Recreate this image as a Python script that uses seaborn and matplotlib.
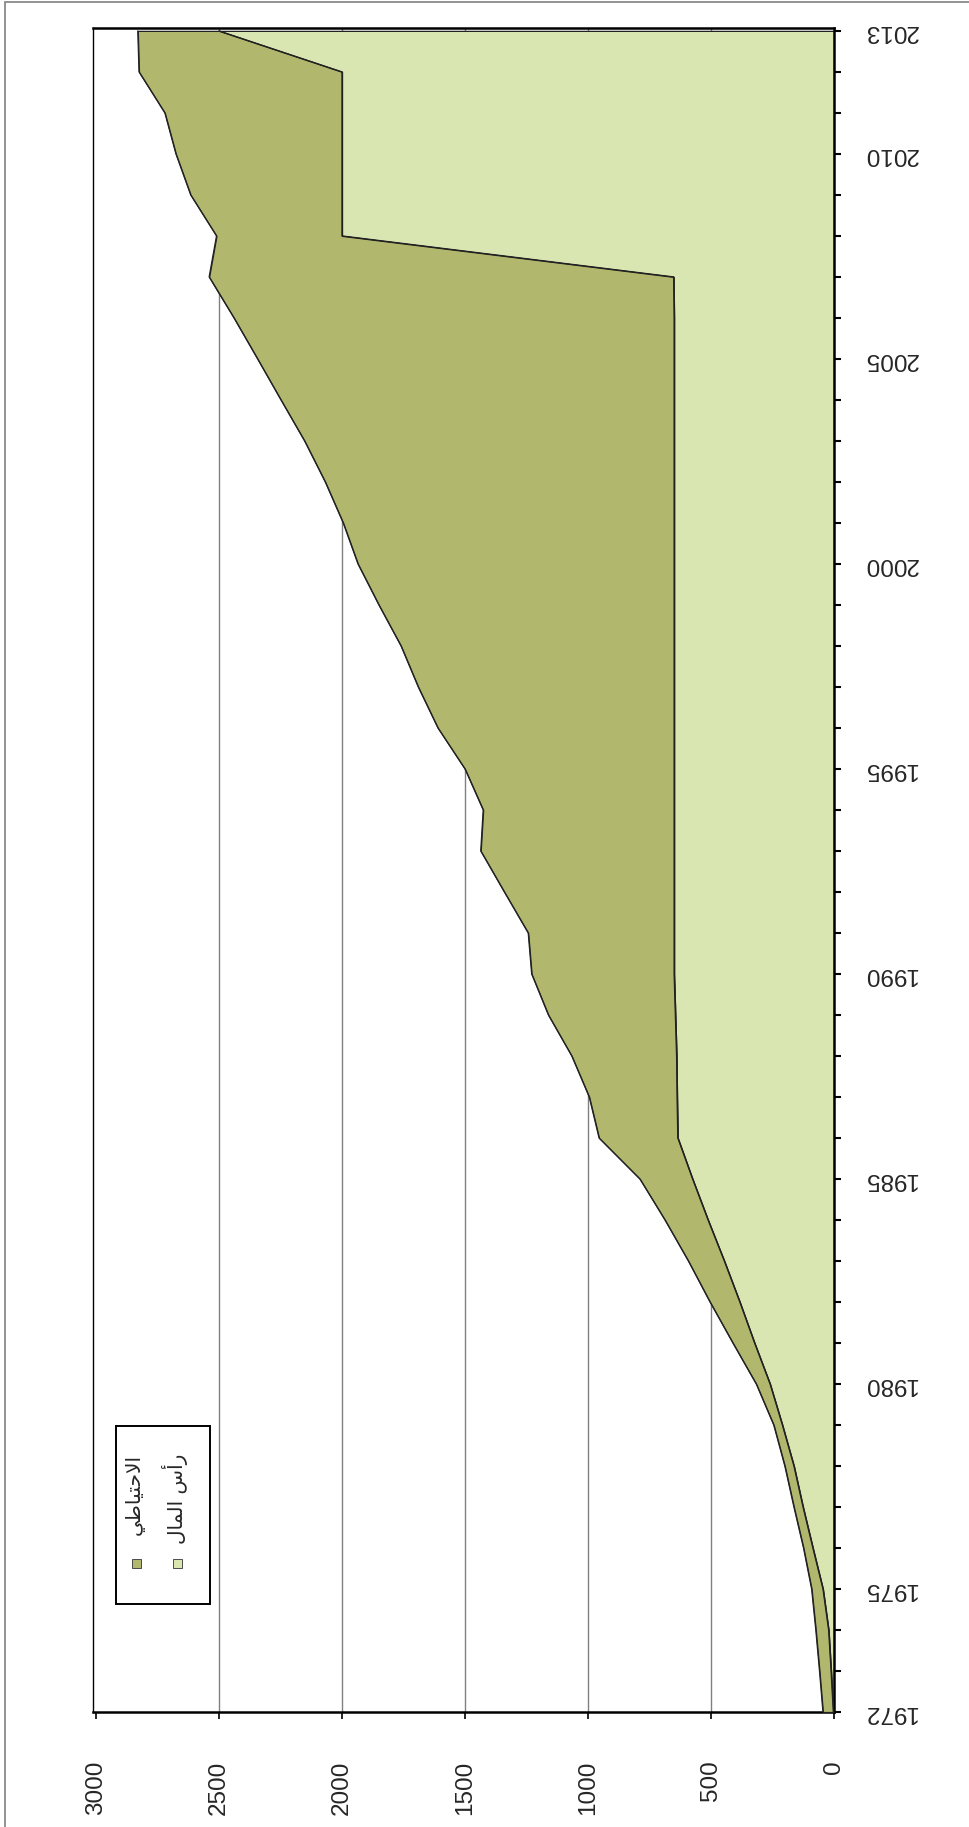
import numpy as np
import matplotlib
matplotlib.use("Agg")
import matplotlib.pyplot as plt
import seaborn as sns
from matplotlib.patches import Rectangle

# Data (rotated stacked area chart)
years = list(range(1972, 2014))
capital = [3, 12, 22, 45, 86, 126, 163, 210, 260, 323, 383, 446, 512, 575,
           635, 638, 640, 645, 650, 650, 650, 650, 650, 650, 650, 650, 650, 650,
           650, 650, 650, 650, 650, 650, 650, 652, 2000, 2000, 2000, 2000, 2000, 2500]
reserve = [42, 47, 52, 46, 38, 37, 37, 35, 56, 88, 121, 146, 175, 214,
           320, 357, 426, 516, 579, 593, 690, 786, 776, 850, 960, 1040, 1110, 1200,
           1285, 1345, 1418, 1502, 1598, 1693, 1789, 1888, 510, 615, 675, 720, 825, 330]
series_names = ["الاحتياطي", "رأس المال"]
# same labels in Arabic presentation forms, visual order (matplotlib does no shaping)
series_labels_shaped = ["\ufef2\ufec3\ufe8e\ufef4\ufe98\ufea3\ufefb\ufe8d",
                        "\ufedd\ufe8e\ufee4\ufedf\ufe8d \ufeb1\ufe83\ufead"]
year_labels = [1972, 1975, 1980, 1985, 1990, 1995, 2000, 2005, 2010, 2013]
value_ticks = [0, 500, 1000, 1500, 2000, 2500, 3000]

dark = "#B2B76E"
light = "#DAE6B1"

sns.set_style("white")
plt.rcParams['font.family'] = ['Liberation Sans', 'DejaVu Sans']

df_years = np.array(years)
cap = np.array(capital)
total = cap + np.array(reserve)

W, H = 969, 1827
fig = plt.figure(figsize=(W / 100, H / 100), dpi=100)
ax = fig.add_axes([93 / W, 1 - 1712 / H, (834 - 93) / W, (1712 - 28) / H])

# gridlines behind the areas
for v in value_ticks[1:-1]:
    ax.axvline(v, color="#808080", lw=1.0, zorder=0)

ax.fill_betweenx(df_years, 0, cap, color=light, edgecolor="#222222", lw=0.9, zorder=2)
ax.fill_betweenx(df_years, cap, total, color=dark, edgecolor="#222222", lw=0.9, zorder=3)
sns.lineplot(x=total, y=df_years, orient="y", sort=False, color="#222222", lw=0.9, ax=ax, zorder=4)
sns.lineplot(x=cap, y=df_years, orient="y", sort=False, color="#222222", lw=0.9, ax=ax, zorder=4)

ax.set_xlim(3012, 0)
ax.set_ylim(1972, 2013.07)

ax.set_xticks(value_ticks)
ax.set_xticklabels([str(v) for v in value_ticks])
ax.set_yticks(years)
ax.set_yticklabels([str(y) if y in year_labels else "" for y in years])

ax.yaxis.tick_right()
ax.tick_params(axis="y", which="both", direction="out", length=5, width=1.5,
               color="black", labelsize=17.5, labelrotation=180, pad=16,
               left=False, right=True)
ax.tick_params(axis="x", direction="out", length=5, width=1.2, color="black",
               labelsize=17.5, labelrotation=90, pad=30, bottom=True)
for lab in ax.get_yticklabels():
    lab.set_verticalalignment("center")
for lab in ax.get_xticklabels():
    lab.set_verticalalignment("top")

ax.set_xlabel("")
ax.set_ylabel("")
for side, w in [("right", 1.8), ("bottom", 1.8), ("top", 1.8), ("left", 1.0)]:
    ax.spines[side].set_visible(True)
    ax.spines[side].set_color("black")
    ax.spines[side].set_linewidth(w)

# legend (rotated with the chart), drawn by hand
fx = lambda px: px / W
fy = lambda py: 1 - py / H
fig.patches.append(Rectangle((fx(116), fy(1604)), fx(210) - fx(116), fy(1426) - fy(1604),
                             transform=fig.transFigure, facecolor="white",
                             edgecolor="black", lw=1.4, zorder=10))
for cx, col, text in [(136.5, dark, series_labels_shaped[0]),
                      (177, light, series_labels_shaped[1])]:
    fig.patches.append(Rectangle((fx(cx - 4.5), fy(1567.5)), 9 / W, 9 / H,
                                 transform=fig.transFigure, facecolor=col,
                                 edgecolor="#333333", lw=0.6, zorder=11))
    fig.text(fx(cx - 2), fy(1454), text, rotation=90, ha="center", va="top",
             fontsize=14.5, family=["DejaVu Sans"], zorder=11)

# outer chart border
fig.patches.append(Rectangle((fx(5), fy(H + 10)), 1.2, fy(2) - fy(H + 10),
                             transform=fig.transFigure, facecolor="none",
                             edgecolor="#8a8a8a", lw=1.3, zorder=0))

fig.savefig("out.png", dpi=100)
